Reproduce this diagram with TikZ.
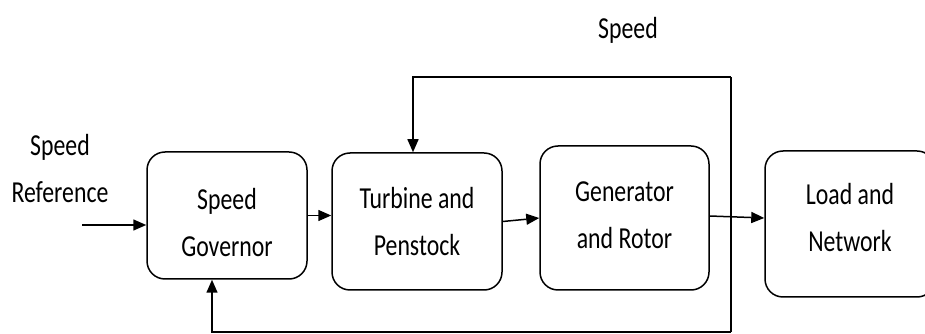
\documentclass[tikz,border=0pt]{standalone}
\usepackage{fontspec}
\setmainfont[FakeStretch=0.78]{Carlito}
\usetikzlibrary{arrows.meta}
\begin{document}
\begin{tikzpicture}[x=1pt,y=1pt,
  blk/.style={draw=black, line width=1.5pt, rounded corners=18pt, inner sep=0pt},
  lbl/.style={align=center, font=\fontsize{30.5}{47}\selectfont, inner sep=0pt},
  arr/.style={draw=black, line width=1.5pt, -{Triangle[length=13pt,width=11pt]}},
  ln/.style={draw=black, line width=1.5pt}]
\useasboundingbox (0,0) rectangle (925,334);
\clip (0,0) rectangle (925,334);
\node[blk, minimum width=160pt, minimum height=127pt] (gov) at (227,118.5) {};
\node[blk, minimum width=170pt, minimum height=137pt] (tur) at (417,112.5) {};
\node[blk, minimum width=169pt, minimum height=144pt] (gen) at (624.5,116) {};
\node[blk, minimum width=170pt, minimum height=146pt] (load) at (850,110) {};
\node[lbl] (govt) at ([yshift=-7pt]gov.center) {Speed\\Governor};
\node[lbl] (turt) at ([yshift=0pt]tur.center) {Turbine and\\Penstock};
\node[lbl] (gent) at ([yshift=3pt]gen.center) {Generator\\and Rotor};
\node[lbl] (loadt) at ([yshift=6pt]load.center) {Load and\\Network};
\node[lbl] (ref) at (60,165) {Speed\\Reference};
\node[lbl] (spd) at (628,304) {Speed};
\coordinate (in) at (82,109);
\coordinate (tr) at (731,257);
\coordinate (br) at (731,2);
\draw[arr] (in) -- (in -| gov.west);
\draw[arr] (gov.east) -- (gov.east -| tur.west);
\draw[arr] (tur.east) -- (gen.west);
\draw[arr] ([yshift=2pt]gen.east) -- ([yshift=6pt]load.west);
\draw[ln] (br) -- (tr);
\draw[arr] (tr) -| ([xshift=-4pt]tur.north);
\draw[arr] (br) -| ([xshift=-15pt]gov.south);
\end{tikzpicture}
\end{document}
